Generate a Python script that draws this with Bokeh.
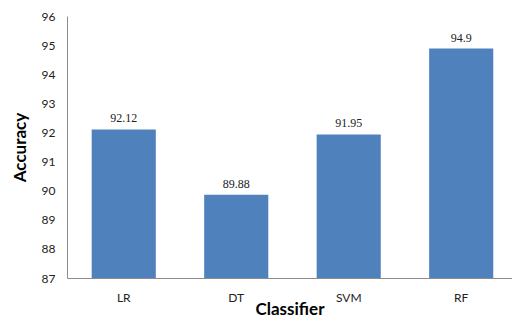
from bokeh.plotting import figure
from bokeh.models import Range1d, FixedTicker, LabelSet, ColumnDataSource
from bokeh.embed import file_html
from bokeh.resources import INLINE

categories = ["LR", "DT", "SVM", "RF"]
accuracy = [92.12, 89.88, 91.95, 94.9]
acc_labels = ["92.12", "89.88", "91.95", "94.9"]
y_ticks = [87, 88, 89, 90, 91, 92, 93, 94, 95, 96]

xpos = [i + 0.5 for i in range(len(categories))]
src = ColumnDataSource(dict(x=xpos, top=accuracy, lab=acc_labels))

FONT = "Lato"
p = figure(width=512, height=321, output_backend="svg", toolbar_location=None,
           x_range=Range1d(0, 3.956), y_range=Range1d(87, 96),
           min_border_left=67, min_border_right=0, min_border_top=16, min_border_bottom=0)
p.outline_line_color = None
p.xgrid.visible = False
p.ygrid.visible = False

p.vbar(x="x", top="top", bottom=87, width=0.57, source=src, color="#4F81BD", line_color=None)

labels = LabelSet(x="x", y="top", text="lab", source=src, text_align="center",
                  text_baseline="bottom", y_offset=7, text_font_size="12px",
                  text_font=FONT, text_color="#222222")
p.add_layout(labels)

for ax in (p.xaxis[0], p.yaxis[0]):
    ax.axis_line_color = "#8c8c8c"
    ax.major_tick_line_color = None
    ax.minor_tick_line_color = None
    ax.major_tick_in = 0
    ax.major_tick_out = 0
    ax.major_label_text_font = FONT
    ax.major_label_text_font_size = "12px"
    ax.major_label_text_color = "#222222"
    ax.axis_label_text_font = FONT
    ax.axis_label_text_font_style = "bold"
    ax.axis_label_text_color = "#000000"

p.yaxis.ticker = FixedTicker(ticks=y_ticks)
p.yaxis.major_label_standoff = 12
p.yaxis.axis_label = "Accuracy"
p.yaxis.axis_label_text_font_size = "17px"
p.yaxis.axis_label_standoff = 9

p.xaxis.ticker = FixedTicker(ticks=xpos)
p.xaxis.major_label_overrides = {x: c for x, c in zip(xpos, categories)}
p.xaxis.major_label_standoff = 11
p.xaxis.axis_label = "Classifier"
p.xaxis.axis_label_text_font_size = "17px"
p.xaxis.axis_label_standoff = -10

open("out.html", "w").write(file_html(p, INLINE))
